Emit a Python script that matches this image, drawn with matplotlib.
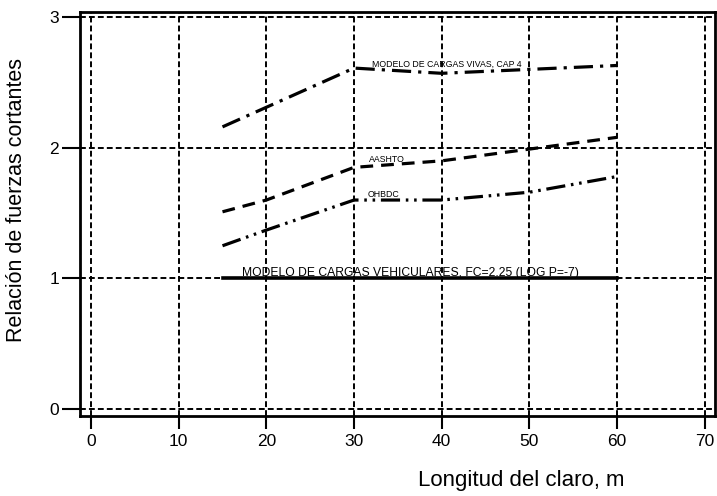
import matplotlib
matplotlib.use("Agg")
import matplotlib.pyplot as plt

plt.rcParams['font.family'] = ['Liberation Sans', 'DejaVu Sans']

# Span lengths (m) and shear-force ratios per load model
span = [15, 20, 30, 40, 50, 60]
cap4 = [2.16, 2.31, 2.61, 2.57, 2.60, 2.63]
aashto = [1.51, 1.60, 1.85, 1.90, 1.99, 2.08]
ohbdc = [1.25, 1.37, 1.60, 1.60, 1.66, 1.78]
vehic_span = [15, 60]
vehic = [1.0, 1.0]

xticks = [0, 10, 20, 30, 40, 50, 60, 70]
yticks = [0, 1, 2, 3]

label_cap4 = "MODELO DE CARGAS VIVAS, CAP 4"
label_aashto = "AASHTO"
label_ohbdc = "OHBDC"
label_vehic = "MODELO DE CARGAS VEHICULARES, FC=2.25 (LOG P=-7)"

fig = plt.figure(figsize=(7.17, 4.96), dpi=100)
ax = fig.add_axes([0.1116, 0.1613, 0.8854, 0.8147])

ax.set_xlim(-1.25, 71.15)
ax.set_ylim(-0.053, 3.04)

# dashed grid drawn as reference lines at each tick
for xv in xticks:
    ax.axvline(xv, color='black', lw=1.4, ls=(0, (3, 1.6)), zorder=1)
for yv in yticks:
    ax.axhline(yv, color='black', lw=1.4, ls=(0, (3, 1.6)), zorder=1)

ax.plot(span, cap4, color='black', lw=2.3, ls=(0, (6, 2.2, 1, 2.2)), zorder=3)
ax.plot(span, aashto, color='black', lw=2.3, ls=(0, (4, 2.5)), zorder=3)
ax.plot(span, ohbdc, color='black', lw=2.3, ls=(0, (6, 1.8, 0.8, 1.8, 0.8, 1.8)), zorder=3)
ax.plot(vehic_span, vehic, color='black', lw=2.6, ls='-', zorder=3)

txt_kw = dict(color='black', va='baseline', ha='left', zorder=4)
ax.text(32.0, 2.62, label_cap4, fontsize=6.3, **txt_kw)
ax.text(31.7, 1.89, label_aashto, fontsize=6.3, **txt_kw)
ax.text(31.5, 1.62, label_ohbdc, fontsize=6.3, **txt_kw)
ax.text(17.2, 1.015, label_vehic, fontsize=8.7, **txt_kw)

ax.set_xticks(xticks)
ax.set_yticks(yticks)
ax.tick_params(axis='x', direction='out', length=9, width=1.5, labelsize=12.5, pad=4)
ax.tick_params(axis='y', direction='out', length=13, width=1.5, labelsize=12.5, pad=2)
for s in ax.spines.values():
    s.set_linewidth(2)

ax.set_ylabel("Relación de fuerzas cortantes", fontsize=15.5)
ax.yaxis.set_label_coords(-0.0835, 0.535)
fig.text(0.727, 0.032, "Longitud del claro, m", fontsize=16, ha='center', va='center')

fig.savefig("out.png", dpi=100)
